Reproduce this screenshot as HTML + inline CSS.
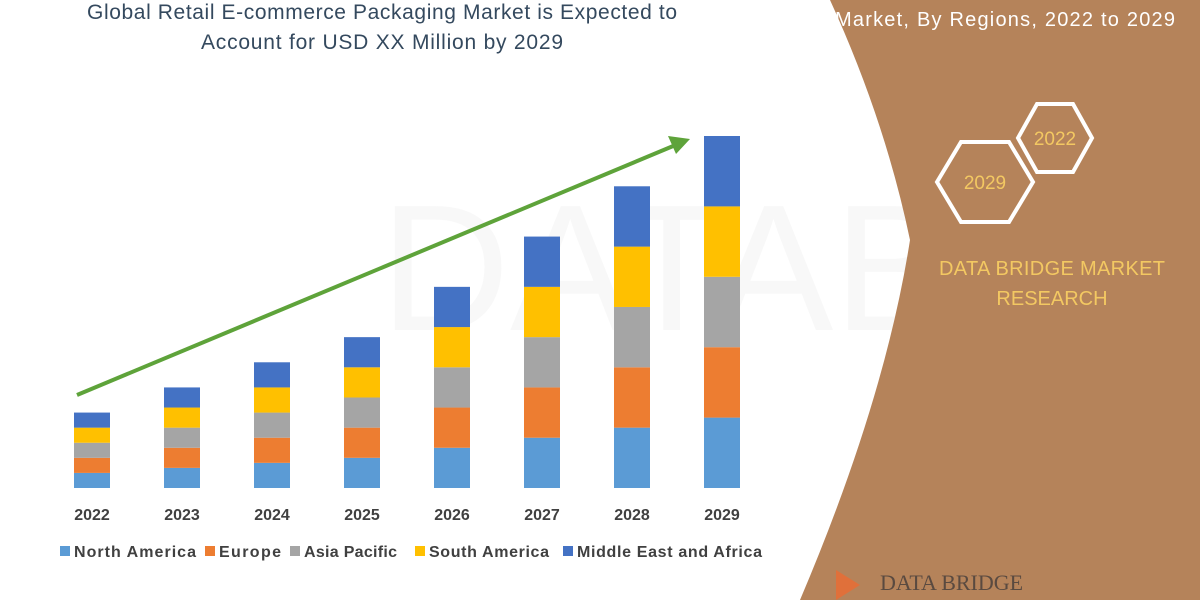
<!DOCTYPE html>
<html><head><meta charset="utf-8">
<style>
html,body{margin:0;padding:0;background:#fff;}
body{width:1200px;height:600px;overflow:hidden;font-family:"Liberation Sans",sans-serif;}
</style></head>
<body>
<svg id="chart" width="1200" height="600" viewBox="0 0 1200 600" xmlns="http://www.w3.org/2000/svg">
  <rect x="0" y="0" width="1200" height="600" fill="#ffffff"/>
  <g opacity="0.04">
    <text x="380" y="330" font-size="180" font-family="Liberation Sans, sans-serif" fill="#666">DATABRIDGE</text>
  </g>
  <path d="M830,0 Q885,120 910,240 Q885,400 800,600 L1200,600 L1200,0 Z" fill="#b5835a"/>
  <text x="382" y="19" text-anchor="middle" font-size="21" textLength="590" lengthAdjust="spacing" fill="#34495e">Global Retail E-commerce Packaging Market is Expected to</text>
  <text x="382" y="49" text-anchor="middle" font-size="21" textLength="362" lengthAdjust="spacing" fill="#34495e">Account for USD XX Million by 2029</text>
  <text x="1005" y="26" text-anchor="middle" font-size="20" textLength="340" lengthAdjust="spacing" fill="#ffffff">Market, By Regions, 2022 to 2029</text>
  <polygon points="937,182 961,142 1009,142 1033,182 1009,222 961,222" fill="none" stroke="#ffffff" stroke-width="4"/>
  <polygon points="1018,138 1037,104 1073,104 1092,138 1073,172 1037,172" fill="none" stroke="#ffffff" stroke-width="4"/>
  <text x="985" y="189" text-anchor="middle" font-size="19" fill="#f3c862">2029</text>
  <text x="1055" y="145" text-anchor="middle" font-size="19" fill="#f3c862">2022</text>
  <text x="1052" y="275" text-anchor="middle" font-size="20" textLength="226" lengthAdjust="spacing" fill="#f3c862">DATA BRIDGE MARKET</text>
  <text x="1052" y="305" text-anchor="middle" font-size="20" fill="#f3c862">RESEARCH</text>
  <path d="M836,570 L860,585 L836,600 Z" fill="#e0703a"/>
  <text x="880" y="590" font-size="22" font-family="Liberation Serif, serif" fill="#5a4a40">DATA BRIDGE</text>
  <g id="bars"></g>
  <g id="xaxis"></g>
  <line x1="77" y1="395" x2="678" y2="144" stroke="#5ea33a" stroke-width="4"/>
  <polygon points="690,139 668,136 676,154" fill="#5ea33a"/>
  <g id="legend"></g>
</svg>
<script>
const years = ["2022","2023","2024","2025","2026","2027","2028","2029"];
const seriesNames = ["North America","Europe","Asia Pacific","South America","Middle East and Africa"];
const northAmerica = [15,20,25,30,40,50,60,70];
const europe = [15,20,25,30,40,50,60,70];
const asiaPacific = [15,20,25,30,40,50,60,70];
const southAmerica = [15,20,25,30,40,50,60,70];
const middleEastAfrica = [15,20,25,30,40,50,60,70];
const seriesValues = [northAmerica, europe, asiaPacific, southAmerica, middleEastAfrica];
const colors = ["#5b9bd5","#ed7d31","#a5a5a5","#ffc000","#4472c4"];
const NS = "http://www.w3.org/2000/svg";
const baseY = 488, plotH = 352, yMax = 350;
function yScale(v){ return baseY - v / yMax * plotH; }
function xCenter(i){ return 92 + i * 90; }
const barW = 36;
const bars = document.getElementById("bars");
years.forEach((yr, i) => {
  let cum = 0;
  seriesValues.forEach((s, k) => {
    const v = s[i];
    const r = document.createElementNS(NS, "rect");
    r.setAttribute("x", xCenter(i) - barW / 2);
    r.setAttribute("y", yScale(cum + v));
    r.setAttribute("width", barW);
    r.setAttribute("height", yScale(cum) - yScale(cum + v));
    r.setAttribute("fill", colors[k]);
    
    
    bars.appendChild(r);
    cum += v;
  });
  const t = document.createElementNS(NS, "text");
  t.setAttribute("x", xCenter(i));
  t.setAttribute("y", 520);
  t.setAttribute("text-anchor", "middle");
  t.setAttribute("font-size", "16");
  t.setAttribute("font-weight", "bold");
  t.setAttribute("fill", "#404040");
  t.textContent = yr;
  
  
  document.getElementById("xaxis").appendChild(t);
});
const legendX = [60, 205, 290, 415, 563];
const legendLen = [122, 62, 93, 120, 185];
const legend = document.getElementById("legend");
seriesNames.forEach((n, k) => {
  const g = document.createElementNS(NS, "g");
  
  
  const r = document.createElementNS(NS, "rect");
  r.setAttribute("x", legendX[k]); r.setAttribute("y", 546);
  r.setAttribute("width", 10); r.setAttribute("height", 10);
  r.setAttribute("fill", colors[k]);
  g.appendChild(r);
  const t = document.createElementNS(NS, "text");
  t.setAttribute("x", legendX[k] + 14); t.setAttribute("y", 557);
  t.setAttribute("font-size", "16"); t.setAttribute("font-weight", "bold");
  t.setAttribute("textLength", legendLen[k]);
  t.setAttribute("lengthAdjust", "spacing");
  t.setAttribute("fill", "#404040");
  t.textContent = n;
  g.appendChild(t);
  legend.appendChild(g);
});
</script>
</body></html>
